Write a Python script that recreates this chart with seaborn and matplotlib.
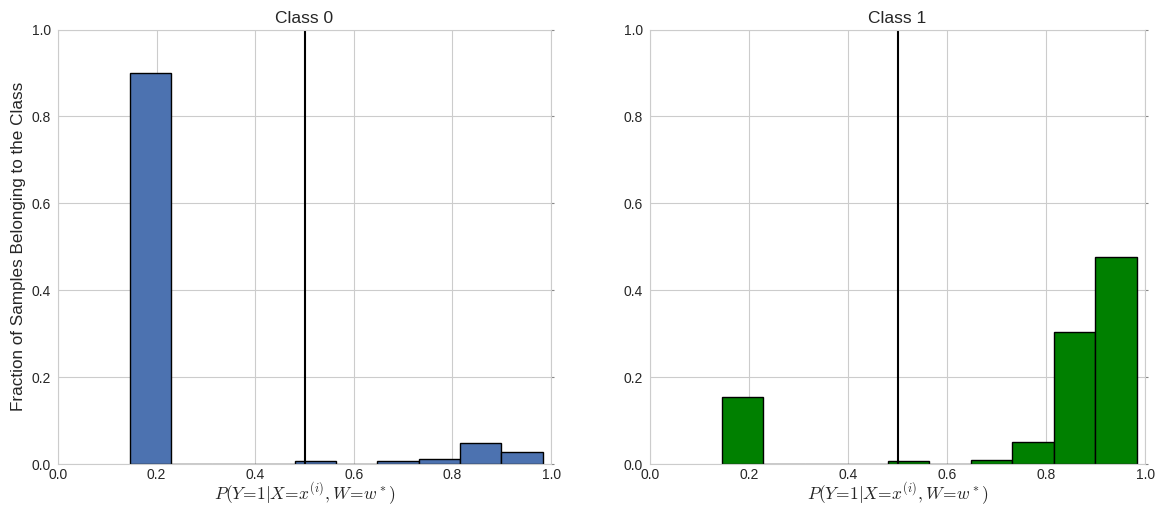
import numpy as np
import pandas as pd
import matplotlib
matplotlib.use("Agg")
import matplotlib.pyplot as plt
import seaborn as sns

# Histogram binning shared by both classes (10 equal bins)
n_bins = 10
bin_range = (0.1452, 0.983)
bin_edges = np.linspace(bin_range[0], bin_range[1], n_bins + 1)
bin_centers = (bin_edges[:-1] + bin_edges[1:]) / 2

# Fraction of samples of each class falling in each bin
class0_frac = [0.899, 0.0, 0.0, 0.0, 0.008, 0.0, 0.006, 0.011, 0.048, 0.028]
class1_frac = [0.155, 0.0, 0.0, 0.0, 0.006, 0.0, 0.010, 0.050, 0.303, 0.476]

titles = ["Class 0", "Class 1"]
colors = ["#4C72B0", "#008000"]
threshold = 0.5

sns.set_style("whitegrid", {"axes.edgecolor": "#cccccc", "grid.color": "#cccccc"})
plt.rcParams["font.family"] = ["Liberation Sans", "DejaVu Sans"]
plt.rcParams["mathtext.fontset"] = "cm"

fig = plt.figure(figsize=(11.7, 5.15), dpi=100)
ax0 = fig.add_axes([0.0496, 0.099, 0.4214, 0.8437])
ax1 = fig.add_axes([0.5556, 0.099, 0.4231, 0.8437])

for ax, frac, title, color in zip([ax0, ax1], [class0_frac, class1_frac], titles, colors):
    df = pd.DataFrame({"p": bin_centers, "frac": frac})
    sns.histplot(data=df, x="p", weights="frac", bins=n_bins, binrange=bin_range, ax=ax,
                 color=color, alpha=1.0, edgecolor="black", linewidth=1.0)
    ax.plot([threshold, threshold], [0, 1], color="black", linewidth=1.5)
    ax.set_xlim(0, 1)
    ax.set_ylim(0, 1)
    ax.set_xticks(np.arange(0, 1.01, 0.2))
    ax.set_yticks(np.arange(0, 1.01, 0.2))
    ax.set_title(title, fontsize=12.5, pad=5)
    ax.set_xlabel(r"$P(Y\!=\!1|X\!=\!x^{(i)},W\!=\!w^*)$", fontsize=12.5, labelpad=-1)
    ax.set_ylabel("")
    ax.tick_params(axis="both", labelsize=10, length=0, pad=3)
    ax.tick_params(axis="y", right=True, length=2, color="#888888")
    ax.set_axisbelow(True)

ax0.set_ylabel("Fraction of Samples Belonging to the Class", fontsize=12.3, labelpad=4)

fig.savefig("out.png", dpi=100)
